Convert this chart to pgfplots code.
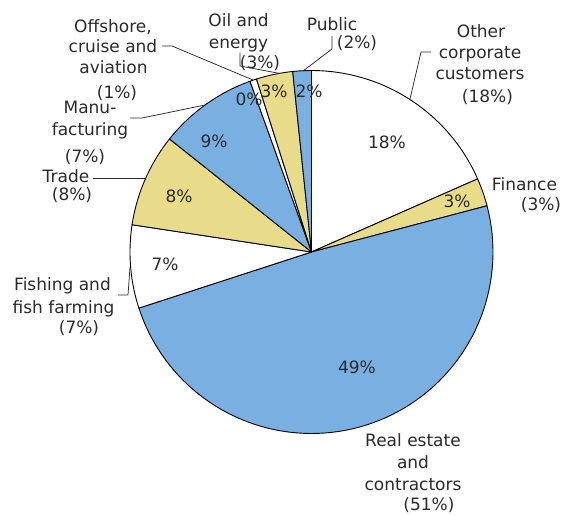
\documentclass[border=0pt]{standalone}
\usepackage{fontspec}
\setmainfont{DejaVu Sans}
\usepackage{pgfplots}
\usepackage{pgfplotstable}
\pgfplotsset{compat=1.18}
\definecolor{pieblue}{HTML}{7AAFE1}
\definecolor{pieyellow}{HTML}{E8DC8A}
\definecolor{txt}{HTML}{2B2B2B}

% slice shares in percent, clockwise from 12 o'clock
\pgfplotstableread{
name share
Other 18.4
Finance 2.5
RealEstate 49.1
Fishing 7.4
Trade 8.3
Manufacturing 8.8
Offshore 0.6
Oil 3.25
Public 1.65
}\piedata

\def\cx{311.5}
\def\cy{252}
\def\R{181.5}

\newcommand\nextangle[2]{%
  \pgfplotstablegetelem{#1}{share}\of\piedata
  \pgfmathsetmacro#2{\lastangle-3.6*\pgfplotsretval}%
  \let\lastangle#2}

\newcommand\slice[3]{%
  \addplot[draw=black, line width=0.9pt, line join=round, fill=#3,
    variable=\t, domain=#2:#1, samples=80]
    ({\cx+\R*cos(\t)},{\cy-\R*sin(\t)}) -- (axis cs:\cx,\cy) -- cycle;}

\newcommand\lbl[3]{\node[anchor=base, inner sep=0pt] at (axis cs:#1,#2) {#3};}

\begin{document}
\begin{tikzpicture}[font=\fontsize{17}{20}\selectfont, text=txt]
\def\aA{90}\let\lastangle\aA
\nextangle{0}\aB
\nextangle{1}\aC
\nextangle{2}\aD
\nextangle{3}\aE
\nextangle{4}\aF
\nextangle{5}\aG
\nextangle{6}\aH
\nextangle{7}\aI
\nextangle{8}\aJ
\begin{axis}[
  scale only axis, width=565pt, height=516pt,
  xmin=0, xmax=565, ymin=0, ymax=516, y dir=reverse,
  hide axis, clip=false]
\slice{\aA}{\aB}{white}
\slice{\aB}{\aC}{pieyellow}
\slice{\aC}{\aD}{pieblue}
\slice{\aD}{\aE}{white}
\slice{\aE}{\aF}{pieyellow}
\slice{\aF}{\aG}{pieblue}
\slice{\aG}{\aH}{white}
\slice{\aH}{\aI}{pieyellow}
\slice{\aI}{\aJ}{pieblue}

% leader lines
\addplot[txt, line width=0.75pt, no markers] coordinates {(332,36) (332,49) (303,71)};
\addplot[txt, line width=0.75pt, no markers] coordinates {(240,53) (240,66) (280,73.5)};
\addplot[txt, line width=0.75pt, no markers] coordinates {(162,46) (172,46) (253,80)};
\addplot[txt, line width=0.75pt, no markers] coordinates {(130,118) (142,118) (205,105)};
\addplot[txt, line width=0.75pt, no markers] coordinates {(93,178) (145,178)};
\addplot[txt, line width=0.75pt, no markers] coordinates {(118,295) (128,295) (130,267)};
\addplot[txt, line width=0.75pt, no markers] coordinates {(431,52) (421,52) (410,99)};

% inside labels
\lbl{387}{148.5}{18\%}
\lbl{457}{207.5}{3\%}
\lbl{357}{373.5}{49\%}
\lbl{165}{270.5}{7\%}
\lbl{179}{202.5}{8\%}
\lbl{214}{147.5}{9\%}
\lbl{249}{105.5}{0\%}
\lbl{274}{97.5}{3\%}
\lbl{309}{97.5}{2\%}

% outside labels
\lbl{332}{30.5}{Public}
\lbl{357}{48.5}{(2\%)}
\lbl{238.5}{26.5}{Oil and}
\lbl{238.5}{48.5}{energy}
\lbl{260}{68.5}{(3\%)}
\lbl{113}{32.5}{Offshore,}
\lbl{113}{52.5}{cruise and}
\lbl{113.5}{73.5}{aviation}
\lbl{117}{98.5}{(1\%)}
\lbl{90}{113.5}{Manu-}
\lbl{90}{135.5}{facturing}
\lbl{85}{162.5}{(7\%)}
\lbl{66}{182.5}{Trade}
\lbl{72}{200.5}{(8\%)}
\lbl{62.5}{290.5}{Fishing and}
\lbl{63.5}{313.5}{fish farming}
\lbl{79}{333.5}{(7\%)}
\lbl{524.5}{190.5}{Finance}
\lbl{541}{210.5}{(3\%)}
\lbl{413}{446.5}{Real estate}
\lbl{413}{468.5}{and}
\lbl{413}{490.5}{contractors}
\lbl{429}{510.5}{(51\%)}
\lbl{481}{37.5}{Other}
\lbl{480}{58.5}{corporate}
\lbl{480}{79.5}{customers}
\lbl{487.5}{102.5}{(18\%)}

\coordinate (bbA) at (rel axis cs:0,0);
\coordinate (bbB) at (rel axis cs:1,1);
\end{axis}
\pgfresetboundingbox
\path (bbA) rectangle (bbB);
\end{tikzpicture}
\end{document}
